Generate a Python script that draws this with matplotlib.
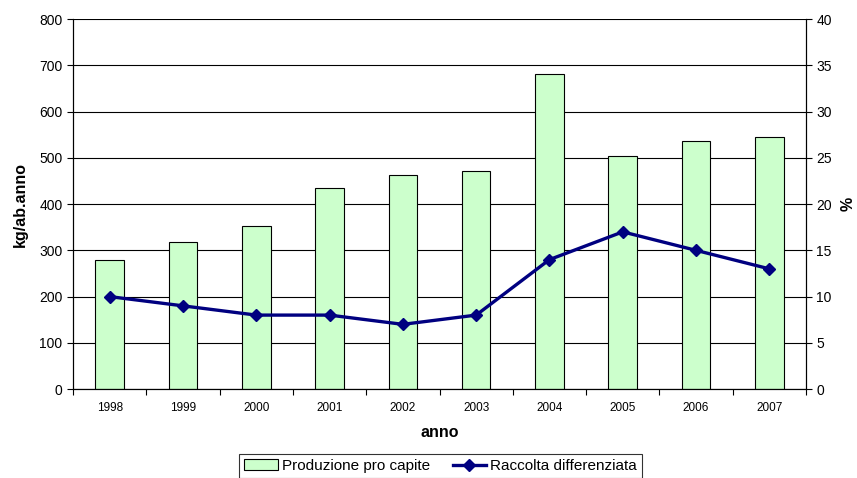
import matplotlib
matplotlib.use("Agg")
import matplotlib.pyplot as plt
import numpy as np

plt.rcParams['font.family'] = ['Liberation Sans', 'DejaVu Sans']

anni = ["1998", "1999", "2000", "2001", "2002", "2003", "2004", "2005", "2006", "2007"]
produzione = [280, 319, 353, 435, 462, 471, 682, 503, 536, 545]
raccolta = [10, 9, 8, 8, 7, 8, 14, 17, 15, 13]

fig = plt.figure(figsize=(8.57, 4.78), dpi=100)
ax = fig.add_axes([0.0852, 0.186, 0.8553, 0.774])
x = np.arange(len(anni))

ax.set_axisbelow(True)
ax.yaxis.grid(True, color="black", linewidth=0.8)
b = ax.bar(x, produzione, width=0.39, color="#CCFFCC", edgecolor="black", linewidth=0.8,
           label="Produzione pro capite", zorder=2)
ax.set_xlim(-0.5, len(anni) - 0.5)
ax.set_ylim(0, 800)
ax.set_yticks(np.arange(0, 801, 100))
ax.set_xticks(np.arange(-0.5, len(anni), 1.0))
ax.set_xticklabels([])
ax.set_xticks(x, minor=True)
ax.set_xticklabels(anni, minor=True, fontsize=8.5)
ax.tick_params(axis="x", which="minor", length=0, pad=9)
ax.tick_params(axis="x", which="major", length=4, direction="out", color="black")
ax.tick_params(axis="y", labelsize=10, length=4, direction="out")
ax.spines["top"].set_visible(False)
ax.set_ylabel("kg/ab.anno", fontsize=11.5, fontweight="bold", labelpad=8)
ax.set_xlabel("anno", fontsize=11.5, fontweight="bold", labelpad=8)

ax2 = ax.twinx()
l, = ax2.plot(x, raccolta, color="#000080", linewidth=2.4, marker="D", markersize=6,
              label="Raccolta differenziata", zorder=3)
ax2.set_ylim(0, 40)
ax2.set_yticks(np.arange(0, 41, 5))
ax2.tick_params(axis="y", labelsize=10, length=4, direction="out")
ax2.spines["top"].set_visible(False)
ax2.set_ylabel("%", fontsize=11.5, fontweight="bold", labelpad=6)

# legenda in basso
leg = fig.legend([b, l], ["Produzione pro capite", "Raccolta differenziata"], loc="upper center",
                 bbox_to_anchor=(0.514, 0.051), ncol=2, fontsize=11, frameon=True, fancybox=False,
                 edgecolor="black", handlelength=2.2, handletextpad=0.25, columnspacing=1.5,
                 borderpad=0.35, borderaxespad=0.0)
leg.get_frame().set_linewidth(0.8)

fig.savefig("out.png", dpi=100)
